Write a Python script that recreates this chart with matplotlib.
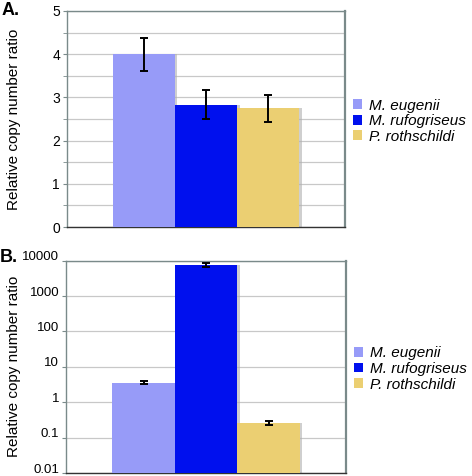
import matplotlib.pyplot as plt
from matplotlib.patches import Patch
from matplotlib.ticker import MultipleLocator, FixedLocator, NullLocator
from matplotlib.transforms import ScaledTranslation
import numpy as np

plt.rcParams['font.family'] = ['Liberation Sans', 'DejaVu Sans']

# Data
species = ['M. eugenii', 'M. rufogriseus', 'P. rothschildi']
colors = ['#979bf8', '#0010ee', '#ebcf72']

ratio_a = [4.0, 2.83, 2.75]
err_a = [0.38, 0.33, 0.31]

ratio_b = [3.6, 7700, 0.26]
err_b = [0.3, 1000, 0.03]

log_ticks = [0.01, 0.1, 1, 10, 100, 1000, 10000]
log_labels = ['0.01', '0.1', '1', '10', '100', '1000', '10000']

fig = plt.figure(figsize=(4.72, 4.76), dpi=100)
ax_a = fig.add_axes([0.142, 0.523, 0.589, 0.454])
ax_b = fig.add_axes([0.140, 0.0063, 0.593, 0.446])

x = np.arange(len(species))
width = 1.0


def style_axes(ax, tick_size, label_x):
    ax.set_xlim(1 - 2.24, 1 + 2.24)
    ax.set_xticks([])
    for side in ['left', 'top', 'right']:
        ax.spines[side].set_color('#7a8a8a')
        ax.spines[side].set_linewidth(1.0)
    ax.spines['right'].set_linewidth(1.6)
    ax.spines['bottom'].set_color('#333333')
    ax.spines['bottom'].set_linewidth(1.0)
    ax.set_axisbelow(True)
    ax.tick_params(axis='y', labelsize=tick_size, length=3, color='#7a8a8a', pad=2)
    ax.tick_params(axis='y', which='minor', length=3, color='#7a8a8a')
    ax.set_ylabel('Relative copy number ratio', fontsize=11, va='center')
    ax.yaxis.set_label_coords(label_x, 0.5)


def draw_bars(ax, vals, errs, log=False):
    base = 0.01 if log else 0
    # soft shadow behind each bar
    for xi, v in zip(x, vals):
        ax.bar(xi + 0.04, v - base, width, color='#b0b0b0', alpha=0.6, zorder=2,
               bottom=base)
    for xi, v, c in zip(x, vals, colors):
        ax.bar(xi, v - base, width, color=c, zorder=3, bottom=base)
    ax.errorbar(x, vals, yerr=errs, fmt='none', ecolor='black',
                elinewidth=1.4, capsize=3, capthick=1.4, zorder=4)


# Panel A
style_axes(ax_a, 10, -0.19)
draw_bars(ax_a, ratio_a, err_a)
ax_a.set_ylim(0, 5)
ax_a.yaxis.set_major_locator(MultipleLocator(1))
ax_a.yaxis.set_minor_locator(MultipleLocator(0.5))
ax_a.grid(axis='y', which='both', color='#c8c8c8', linewidth=0.9)

# Panel B
style_axes(ax_b, 9.5, -0.186)
ax_b.set_yscale('log')
draw_bars(ax_b, ratio_b, err_b, log=True)
ax_b.set_ylim(0.01, 10000)
ax_b.yaxis.set_major_locator(FixedLocator(log_ticks))
ax_b.set_yticklabels(log_labels)
ax_b.yaxis.set_minor_locator(NullLocator())
ax_b.grid(axis='y', which='major', color='#c8c8c8', linewidth=0.9)
shift = ScaledTranslation(0, 5 / 100, fig.dpi_scale_trans)
for lbl in ax_b.get_yticklabels():
    lbl.set_transform(lbl.get_transform() + shift)

# Legends
handles = [Patch(facecolor=c, edgecolor='none', label=s) for s, c in zip(species, colors)]
for ax in [ax_a, ax_b]:
    leg = ax.legend(handles=handles, loc='center left', bbox_to_anchor=(1.0, 0.49),
                    frameon=False, fontsize=11, handlelength=0.6, handleheight=0.6,
                    handletextpad=0.5, labelspacing=0.1, borderaxespad=0.1)
    for t in leg.get_texts():
        t.set_fontstyle('italic')

# Panel letters
fig.text(0.003, 0.995, 'A.', fontsize=13, fontweight='bold', va='top', ha='left')
fig.text(0.0, 0.477, 'B.', fontsize=13, fontweight='bold', va='top', ha='left')

plt.savefig('out.png', dpi=100, facecolor='white')
plt.close()
